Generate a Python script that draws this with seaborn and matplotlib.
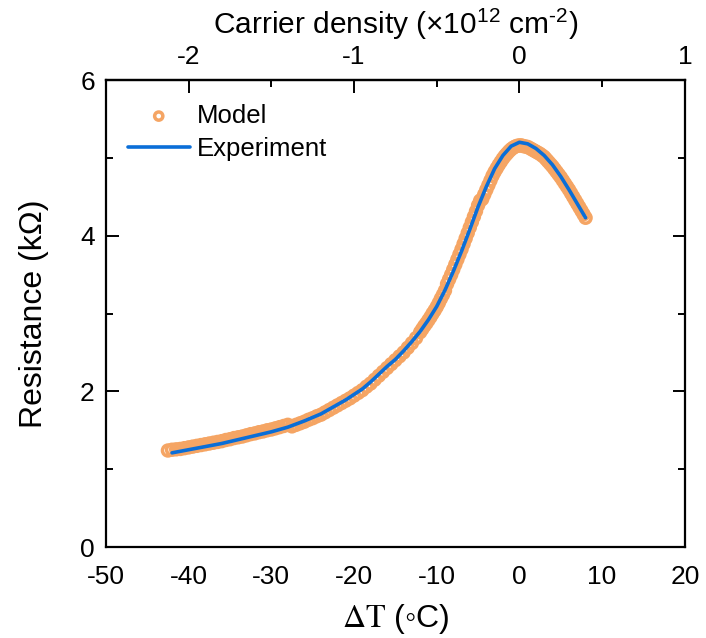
import matplotlib
matplotlib.use("Agg")
import matplotlib.pyplot as plt
import seaborn as sns
from matplotlib.ticker import FixedLocator, MultipleLocator, FormatStrFormatter

# Measured resistance versus temperature offset
DT_EXP = [-42, -41, -40, -39, -38, -37, -36, -35, -34, -33, -32, -31, -30, -29, -28,
          -27, -26, -25, -24, -23, -22, -21, -20, -19, -18, -17, -16, -15, -14, -13,
          -12, -11, -10, -9, -8, -7, -6, -5, -4, -3, -2, -1, 0, 1, 2, 3, 4, 5, 6, 7, 8]
R_EXP = [1.21, 1.23, 1.25, 1.27, 1.29, 1.31, 1.33, 1.355, 1.38, 1.405, 1.43, 1.455, 1.48, 1.51, 1.54,
         1.58, 1.62, 1.665, 1.71, 1.77, 1.83, 1.89, 1.96, 2.03, 2.12, 2.22, 2.32, 2.41, 2.52, 2.64,
         2.77, 2.92, 3.09, 3.30, 3.54, 3.80, 4.08, 4.37, 4.63, 4.86, 5.03, 5.15, 5.20, 5.18, 5.12,
         5.03, 4.91, 4.76, 4.59, 4.41, 4.23]

# Model resistance versus temperature offset
DT_MODEL = [-42.5, -42, -41.5, -41, -40.5, -40, -39.5, -39, -38.5, -38, -37.5, -37, -36.5, -36,
            -35.5, -35, -34.5, -34, -33.5, -33, -32.5, -32, -31.5, -31, -30.5, -30, -29.5, -29,
            -28.5, -28,
            -27.5, -27, -26.5, -26, -25.5, -25, -24.5, -24, -23.5, -23, -22.5, -22, -21.5, -21,
            -20.5, -20, -19.5, -19, -18.5, -18, -17.5, -17, -16.5, -16, -15.5, -15, -14.5, -14,
            -13.5, -13, -12.5,
            -12, -11.75, -11.5, -11.25, -11, -10.75, -10.5, -10.25, -10, -9.75, -9.5, -9.25, -9,
            -8.75, -8.5, -8.25, -8, -7.75, -7.5, -7.25, -7, -6.75, -6.5, -6.25, -6, -5.75, -5.5,
            -5.25, -5, -4.75,
            -4.5, -4.25, -4, -3.75, -3.5, -3.25, -3, -2.75, -2.5, -2.25, -2, -1.75, -1.5, -1.25,
            -1, -0.75, -0.5, -0.25, 0, 0.25, 0.5, 0.75, 1, 1.25, 1.5, 1.75,
            2, 2.25, 2.5, 2.75, 3, 3.25, 3.5, 3.75, 4, 4.25, 4.5, 4.75, 5, 5.25, 5.5, 5.75,
            6, 6.25, 6.5, 6.75, 7, 7.25, 7.5, 7.75, 8]
R_MODEL = [1.24, 1.25, 1.255, 1.26, 1.27, 1.28, 1.29, 1.30, 1.31, 1.32, 1.33, 1.34, 1.35, 1.36,
           1.375, 1.385, 1.40, 1.41, 1.42, 1.435, 1.45, 1.46, 1.475, 1.485, 1.50, 1.51, 1.525, 1.54,
           1.555, 1.57,
           1.55, 1.57, 1.59, 1.61, 1.635, 1.655, 1.68, 1.70, 1.73, 1.76, 1.79, 1.82, 1.85, 1.88,
           1.91, 1.945, 1.98, 2.015, 2.06, 2.10, 2.15, 2.20, 2.25, 2.30, 2.35, 2.40, 2.45, 2.50,
           2.56, 2.62, 2.685,
           2.76, 2.80, 2.84, 2.875, 2.915, 2.955, 3.00, 3.04, 3.085, 3.135, 3.19, 3.24, 3.295,
           3.38, 3.44, 3.50, 3.565, 3.63, 3.695, 3.76, 3.825, 3.895, 3.965, 4.035, 4.105, 4.175,
           4.245, 4.315, 4.39, 4.45,
           4.47, 4.53, 4.59, 4.65, 4.71, 4.77, 4.82, 4.865, 4.91, 4.95, 4.99, 5.025, 5.055, 5.085,
           5.11, 5.13, 5.145, 5.155, 5.16, 5.16, 5.15, 5.145, 5.14, 5.125, 5.11, 5.095,
           5.08, 5.065, 5.05, 5.03, 5.01, 4.98, 4.95, 4.92, 4.89, 4.855, 4.82, 4.785, 4.75, 4.71,
           4.67, 4.63, 4.59, 4.545, 4.50, 4.455, 4.41, 4.365, 4.32, 4.275, 4.23]

X_MAJOR = [-40, -20, 0, 20]
X_MINOR = [-50, -30, -10, 10]
TOP_MAJOR = [-2, -1, 0, 1]
TOP_MINOR = [-1.5, -0.5, 0.5]

ORANGE = "#F5A564"
BLUE = "#0A6ED8"

sns.set_theme(style="white")
plt.rcParams["font.family"] = ["Liberation Sans", "DejaVu Sans"]
plt.rcParams["mathtext.fontset"] = "stix"
plt.rcParams["mathtext.default"] = "regular"
plt.rcParams["axes.unicode_minus"] = False
for key in ("text.color", "axes.labelcolor", "xtick.color", "ytick.color", "axes.edgecolor"):
    plt.rcParams[key] = "black"

fig = plt.figure(figsize=(7.06, 6.38), dpi=100)
ax = fig.add_axes([0.150, 0.1426, 0.820, 0.7320])

sns.scatterplot(x=DT_MODEL, y=R_MODEL, ax=ax, marker="o", s=62,
                facecolors="none", edgecolor=ORANGE, linewidth=2.5,
                label="Model", zorder=2)
sns.lineplot(x=DT_EXP, y=R_EXP, ax=ax, color=BLUE, linewidth=2.6,
             label="Experiment", sort=False, estimator=None, zorder=3)

ax.set_xlim(-50, 20)
ax.set_ylim(0, 6)

ax.xaxis.set_major_locator(FixedLocator(X_MAJOR))
ax.xaxis.set_minor_locator(FixedLocator(X_MINOR))
ax.xaxis.set_major_formatter(FormatStrFormatter("%d"))
ax.xaxis.set_minor_formatter(FormatStrFormatter("%d"))
ax.yaxis.set_major_locator(MultipleLocator(2))
ax.yaxis.set_minor_locator(MultipleLocator(1))

ax.tick_params(axis="both", which="both", direction="in", width=1.4,
               labelsize=19, colors="black", pad=8)
ax.tick_params(axis="x", which="both", pad=13)
ax.tick_params(axis="both", which="major", length=9)
ax.tick_params(axis="both", which="minor", length=5)
ax.tick_params(axis="x", which="both", top=False, labelbottom=True)
ax.tick_params(axis="y", which="both", left=True, right=True)

for sp in ax.spines.values():
    sp.set_linewidth(1.6)
    sp.set_color("black")

sec = ax.secondary_xaxis("top", functions=(lambda t: t / 20.0, lambda n: n * 20.0))
sec.xaxis.set_major_locator(FixedLocator(TOP_MAJOR))
sec.xaxis.set_minor_locator(FixedLocator(TOP_MINOR))
sec.xaxis.set_major_formatter(FormatStrFormatter("%d"))
sec.tick_params(axis="x", which="both", direction="in", width=1.4,
                labelsize=19, pad=8, colors="black")
sec.tick_params(axis="x", which="major", length=9)
sec.tick_params(axis="x", which="minor", length=5)
sec.spines["top"].set_linewidth(1.6)
sec.set_xlabel(r"Carrier density (×10$^{12}$ cm$^{\text{-}2}$)", fontsize=21.5, labelpad=8)

ax.set_xlabel(r"$\mathrm{\Delta T}$ (◦C)", fontsize=23, labelpad=9)
ax.set_ylabel("Resistance (kΩ)", fontsize=23, labelpad=22)

ax.legend(loc="upper left", bbox_to_anchor=(0.038, 0.949), frameon=False,
          fontsize=18.5, handlelength=2.4, handletextpad=0.3, labelspacing=0.35,
          borderaxespad=0, borderpad=0, scatterpoints=1, markerscale=0.75)

fig.savefig("out.png", dpi=100)
